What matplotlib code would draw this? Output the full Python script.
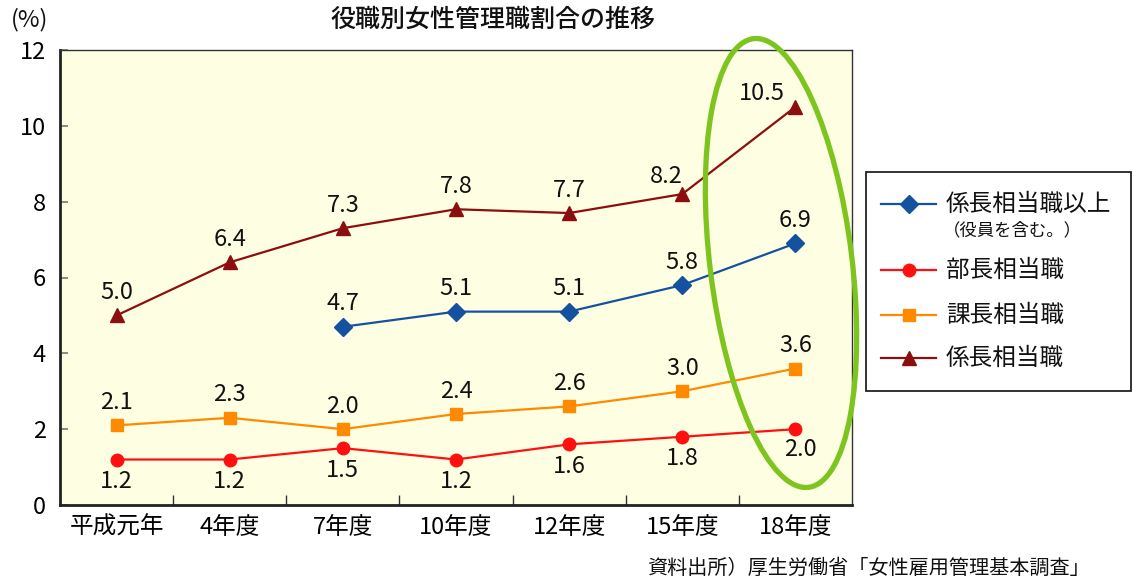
import numpy as np
import matplotlib
matplotlib.use("Agg")
import matplotlib.pyplot as plt
from matplotlib.patches import Ellipse, Rectangle
from matplotlib.lines import Line2D
from matplotlib.transforms import IdentityTransform

plt.rcParams['font.family'] = ['Noto Sans CJK JP', 'DejaVu Sans']

categories = ["平成元年", "4年度", "7年度", "10年度", "12年度", "15年度", "18年度"]
s_kakari_ijo = [np.nan, np.nan, 4.7, 5.1, 5.1, 5.8, 6.9]
s_bucho = [1.2, 1.2, 1.5, 1.2, 1.6, 1.8, 2.0]
s_kacho = [2.1, 2.3, 2.0, 2.4, 2.6, 3.0, 3.6]
s_kakari = [5.0, 6.4, 7.3, 7.8, 7.7, 8.2, 10.5]
yticks = [0, 2, 4, 6, 8, 10, 12]

W, H = 1133, 583
fig = plt.figure(figsize=(W / 100, H / 100), dpi=100)
ax = fig.add_axes([60 / W, 1 - 505 / H, (852 - 60) / W, (505 - 50) / H])
ax.set_facecolor("#FEFEE3")

x = np.arange(len(categories))
series = [
    (s_kakari_ijo, "#1452A0", "D", 9, 23),
    (s_bucho, "#FF1010", "o", 9, -22),
    (s_kacho, "#FF8A00", "s", 9, 23),
    (s_kakari, "#8B0F0F", "^", 10, 23),
]
# special label shifts (pixels) for crowded points
special = {(3, 5): (-16, 18), (3, 6): (-34, 13), (1, 6): (5, -20)}
for si, (vals, col, mk, ms, off) in enumerate(series):
    v = np.array(vals, dtype=float)
    ax.plot(x, v, color=col, marker=mk, markersize=ms, linewidth=1.6, zorder=3)
    for xi, vi in zip(x, v):
        if np.isnan(vi):
            continue
        dx, dy = special.get((si, int(xi)), (0, off))
        ax.annotate(f"{vi:.1f}", (xi, vi), xytext=(dx, dy), textcoords="offset pixels",
                    ha="center", va="center", fontsize=17, color="#111111", zorder=4)

ax.set_xlim(-0.5, len(categories) - 0.5)
ax.set_ylim(0, 12)
ax.set_yticks(yticks)
ax.set_yticklabels([str(t) for t in yticks], fontsize=17)
ax.tick_params(axis="y", direction="in", length=6, width=1.2, color="#777777", pad=10)
ax.set_xticks(x)
ax.set_xticklabels(categories, fontsize=17)
ax.tick_params(axis="x", which="major", length=0, pad=8)
ax.set_xticks(np.arange(0.5, len(categories) - 1, 1), minor=True)
ax.tick_params(axis="x", which="minor", direction="in", length=7, width=1.0, color="#333333")
for sp in ["left", "bottom"]:
    ax.spines[sp].set_linewidth(2.0)
    ax.spines[sp].set_color("#222222")
for sp in ["top", "right"]:
    ax.spines[sp].set_linewidth(1.0)
    ax.spines[sp].set_color("#333333")

# title, unit, source
fig.text(493 / W, 1 - 20 / H, "役職別女性管理職割合の推移", ha="center", va="center",
         fontsize=18, fontweight="medium", color="#111111")
fig.text(30 / W, 1 - 20 / H, "(%)", ha="center", va="center", fontsize=17, color="#111111")
fig.text(1090 / W, 1 - 568 / H, "資料出所）厚生労働省「女性雇用管理基本調査」", ha="right",
         va="center", fontsize=14.5, color="#111111")

# green highlight ellipse (pixel coords)
ell = Ellipse((781, H - 263), width=142, height=452, angle=7, fill=False,
              edgecolor="#7DC41F", linewidth=3.8, transform=IdentityTransform(), zorder=10)
fig.add_artist(ell)

# legend drawn manually
fig.add_artist(Rectangle((866, H - 391), 1131 - 866, 391 - 172, transform=IdentityTransform(),
                         facecolor="white", edgecolor="#222222", linewidth=1.3))
labels = ["係長相当職以上", "部長相当職", "課長相当職", "係長相当職"]
rows_y = [204, 270, 315, 358]
for (vals, col, mk, ms, off), lab, ry in zip(series, labels, rows_y):
    fig.add_artist(Line2D([881 / W, 936 / W], [1 - ry / H, 1 - ry / H], color=col, linewidth=1.6,
                          transform=fig.transFigure))
    fig.add_artist(Line2D([909 / W], [1 - ry / H], color=col, marker=mk, markersize=ms,
                          transform=fig.transFigure))
    fig.text(946 / W, 1 - ry / H, lab, ha="left", va="center", fontsize=17, color="#111111")
fig.text(943 / W, 1 - 230 / H, "（役員を含む。）", ha="left", va="center", fontsize=12.5,
         color="#111111")

fig.savefig("out.png", dpi=100, facecolor="white")
